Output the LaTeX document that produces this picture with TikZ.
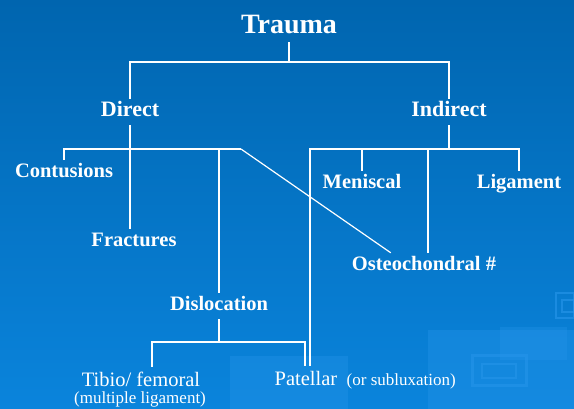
\documentclass[tikz,border=0pt]{standalone}
\usepackage{fontspec}
\setmainfont{Liberation Serif}
\usetikzlibrary{positioning}
\definecolor{slidetop}{RGB}{0,101,175}
\definecolor{slidemid}{RGB}{0,110,192}
\definecolor{slidebot}{RGB}{10,132,220}
\definecolor{tile}{RGB}{40,150,235}

\begin{document}
\begin{tikzpicture}[x=1pt, y=-1pt,
  title/.style={text=white, font=\fontsize{28}{30}\selectfont\bfseries, anchor=base, inner sep=4pt, text height=20pt, text depth=4pt},
  group/.style={text=white, font=\fontsize{22}{26}\selectfont\bfseries, anchor=base, inner sep=4pt, text height=14pt, text depth=4pt},
  item/.style={text=white, font=\fontsize{20.5}{24}\selectfont\bfseries, anchor=base, inner sep=4pt, text height=14pt, text depth=4pt},
  plain/.style={text=white, font=\fontsize{20.5}{24}\selectfont, anchor=base, inner sep=4pt, text height=15pt, text depth=4pt},
  note/.style={text=white, font=\fontsize{17}{20}\selectfont, anchor=base, inner sep=0pt},
  link/.style={white, line width=1.8pt},
  thin link/.style={white, line width=1.2pt}]
\useasboundingbox (0,0) rectangle (574,409);
% slide background
\shade[top color=slidetop, middle color=slidemid, bottom color=slidebot] (0,0) rectangle (574,409);
\fill[tile, opacity=0.35] (230,356) rectangle (348,409);
\fill[tile, opacity=0.35] (428,330) rectangle (574,409);
\fill[tile, opacity=0.3] (500,327) rectangle (567,360);
\draw[tile, opacity=0.5, line width=3pt] (472,356) rectangle (526,386);
\draw[tile, opacity=0.5, line width=2pt] (482,364) rectangle (516,378);
\draw[tile, opacity=0.6, line width=2pt] (556,293) rectangle (574,318);
\draw[tile, opacity=0.6, line width=2pt] (562,300) rectangle (574,312);

% labels
\node[title] (trauma) at (289,34) {Trauma};
\node[group] (direct) at (130,117) {Direct};
\node[group] (indirect) at (449,117) {Indirect};
\node[item] (contusions) at (64,178) {Contusions};
\node[item] (fractures) at (134,247) {Fractures};
\node[item] (dislocation) at (219,311) {Dislocation};
\node[item] (meniscal) at (362,189) {Meniscal};
\node[item] (ligament) at (519,189) {Ligament};
\node[item] (osteo) at (424,271) {Osteochondral \#};
\node[plain] (tibio) at (141,386) {Tibio/ femoral};
\node[note] (multi) at (140,403) {(multiple ligament)};
\node[plain] (patellar) at (306,385) {Patellar};
\node[note, base right=5pt of patellar] (sublux) {(or subluxation)};

% junction levels
\coordinate (tbus) at (0,62);
\coordinate (dbus) at (0,149);
\coordinate (kink) at (241,149);
\coordinate (xbus) at (0,342);

% trauma
\draw[link] (trauma.south) -- (trauma.south |- tbus);
\draw[link] (direct.north) |- (indirect.north |- tbus) -- (indirect.north);
% direct
\draw[link] (direct.south) -- (direct.south |- fractures.north);
\draw[link] (contusions.north) |- (kink);
\draw[thin link] (kink) -- ([xshift=43]osteo.north west);
\draw[link] (dislocation.north) -- (dislocation.north |- dbus);
% indirect
\draw[link] (indirect.south) -- (indirect.south |- dbus);
\draw[link] ([xshift=4]patellar.north) |- (ligament.north |- dbus) -- (ligament.north);
\draw[link] (meniscal.north) -- (meniscal.north |- dbus);
\draw[link] ([xshift=4]osteo.north) -- ([xshift=4]osteo.north |- dbus);
% dislocation
\draw[link] (dislocation.south) -- (dislocation.south |- xbus);
\draw[link] ([xshift=11]tibio.north) |- ([xshift=-1]patellar.north |- xbus) -- ([xshift=-1]patellar.north);
\end{tikzpicture}
\end{document}
